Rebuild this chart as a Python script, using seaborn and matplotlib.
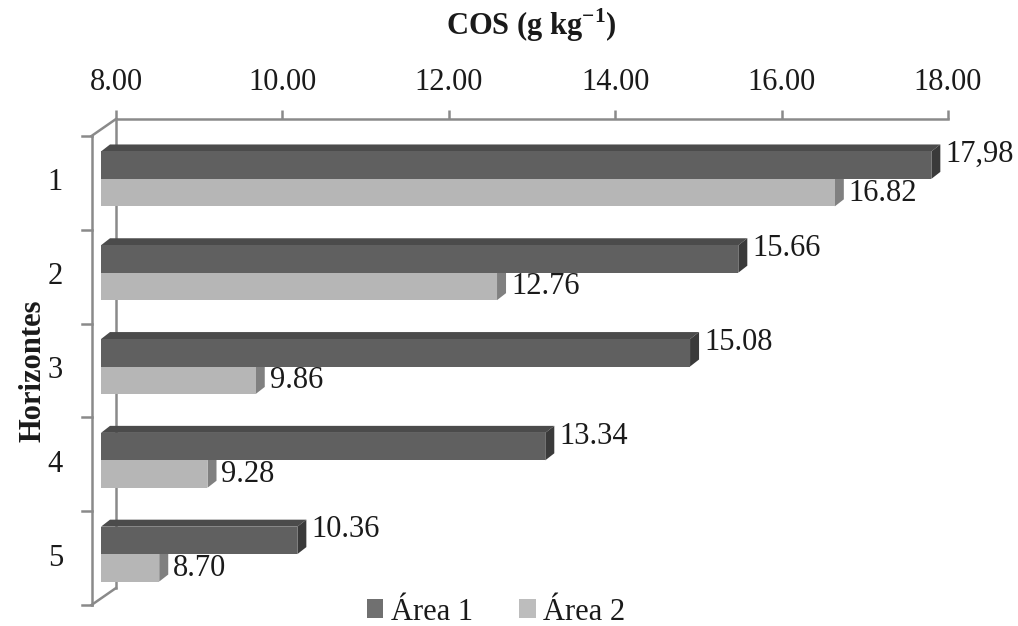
import matplotlib
matplotlib.use("Agg")
import matplotlib.pyplot as plt
import numpy as np
import pandas as pd
import seaborn as sns
from matplotlib.patches import Polygon, Patch
from matplotlib.lines import Line2D
from matplotlib.transforms import IdentityTransform, offset_copy

# ---- data -------------------------------------------------------------
horizontes = ["1", "2", "3", "4", "5"]
areas = ["Área 1", "Área 2"]
cos_area1 = [17.98, 15.66, 15.08, 13.34, 10.36]
cos_area2 = [16.82, 12.76, 9.86, 9.28, 8.70]
rotulos_area1 = ["17,98", "15.66", "15.08", "13.34", "10.36"]
rotulos_area2 = ["16.82", "12.76", "9.86", "9.28", "8.70"]
x_ticks = [8, 10, 12, 14, 16, 18]
x_ticklabels = ["8.00", "10.00", "12.00", "14.00", "16.00", "18.00"]
titulo = "COS (g kg$^{\\mathbf{-1}}$)"
rotulo_y = "Horizontes"

# ---- style ------------------------------------------------------------
sns.set_theme(style="white")
plt.rcParams["font.family"] = ["Liberation Serif", "DejaVu Serif"]
plt.rcParams["mathtext.fontset"] = "custom"
plt.rcParams["mathtext.rm"] = "Liberation Serif"
plt.rcParams["mathtext.bf"] = "Liberation Serif:bold"

FS = 22
DPI = 100
W, H = 1018, 626
wall = "#8a8a8a"
wall_lw = 1.8
front_cols = ["#606060", "#b6b6b6"]
top_cols = ["#4b4b4b", "#9c9c9c"]
side_cols = ["#3a3a3a", "#808080"]
legend_cols = ["#707070", "#bdbdbd"]

# 3-D look: offsets (in pixels) of the bar front / back faces and of the front wall
front_dx, front_dy = -15, -13
back_dx, back_dy = -6, -6
wall_dx, wall_dy = -24.5, -17

fig = plt.figure(figsize=(W / DPI, H / DPI), dpi=DPI)
fig.patch.set_facecolor("white")


def px_rect(left, top, right, bottom):
    return [left / W, 1 - bottom / H, (right - left) / W, (bottom - top) / H]


ax = fig.add_axes(px_rect(116, 119, 948, 588))

df = pd.DataFrame({
    "Horizonte": horizontes * 2,
    "COS": cos_area1 + cos_area2,
    "Área": [areas[0]] * len(horizontes) + [areas[1]] * len(horizontes),
})

sns.barplot(data=df, y="Horizonte", x="COS", hue="Área", orient="h",
            palette=front_cols, width=0.585, saturation=1, legend=False, ax=ax)

x_base = x_ticks[0]
ax.set_xlim(x_ticks[0], x_ticks[-1])
ax.set_ylim(len(horizontes) - 0.5, -0.5)

# axis furniture: value axis on top, back wall on the left
ax.xaxis.tick_top()
ax.set_xticks(x_ticks)
ax.set_xticklabels(x_ticklabels, fontsize=FS)
ax.tick_params(axis="x", top=True, bottom=False, direction="out", length=6.5,
               width=wall_lw, color=wall, pad=9, labelcolor="#1a1a1a")
ax.set_yticks([])
ax.set_xlabel("")
ax.set_ylabel("")
for side in ["right", "bottom"]:
    ax.spines[side].set_visible(False)
for side in ["top", "left"]:
    ax.spines[side].set_color(wall)
    ax.spines[side].set_linewidth(wall_lw)
    ax.spines[side].set_zorder(0.5)
ax.grid(False)

ident = IdentityTransform()
front_tr = offset_copy(ax.transData, fig=fig, x=front_dx, y=front_dy, units="dots")

# bars: front face from seaborn, plus top and side faces
for container, tcol, scol in zip(ax.containers, top_cols, side_cols):
    for bar in container:
        value = bar.get_width()
        bar.set_x(x_base)
        bar.set_width(value - x_base)
        bar.set_transform(front_tr)
        bar.set_clip_on(False)
        bar.set_edgecolor("none")
        bar.set_zorder(3)
        (xl, ya), (xr, yb) = ax.transData.transform(
            [(x_base, bar.get_y()), (value, bar.get_y() + bar.get_height())])
        yt, ybot = max(ya, yb), min(ya, yb)
        top_face = Polygon(
            [(xl + front_dx, yt + front_dy), (xr + front_dx, yt + front_dy),
             (xr + back_dx, yt + back_dy), (xl + back_dx, yt + back_dy)],
            closed=True, transform=ident, facecolor=tcol, edgecolor="none",
            zorder=2, clip_on=False)
        side_face = Polygon(
            [(xr + front_dx, yt + front_dy), (xr + back_dx, yt + back_dy),
             (xr + back_dx, ybot + back_dy), (xr + front_dx, ybot + front_dy)],
            closed=True, transform=ident, facecolor=scol, edgecolor="none",
            zorder=2, clip_on=False)
        ax.add_patch(top_face)
        ax.add_patch(side_face)

# walls: front-left edge, connecting diagonals and category ticks
bb = ax.bbox
x0, x1, y0, y1 = bb.x0, bb.x1, bb.y0, bb.y1
wall_lines = [
    [(x0 + wall_dx, y1 + wall_dy), (x0 + wall_dx, y0 + wall_dy)],
    [(x0, y1), (x0 + wall_dx, y1 + wall_dy)],
    [(x0, y0), (x0 + wall_dx, y0 + wall_dy)],
]
for b in np.arange(-0.5, len(horizontes), 1.0):
    yb_disp = ax.transData.transform((x_base, b))[1] + wall_dy
    wall_lines.append([(x0 + wall_dx - 10, yb_disp), (x0 + wall_dx, yb_disp)])
for seg in wall_lines:
    (xa, ya), (xb, yb) = seg
    ax.add_line(Line2D([xa, xb], [ya, yb], transform=ident, color=wall,
                       lw=wall_lw, zorder=0.6, clip_on=False,
                       solid_capstyle="projecting"))

# category labels on the front wall
ylab_tr = offset_copy(ax.get_yaxis_transform(), fig=fig, x=-53, y=wall_dy, units="dots")
for i, h in enumerate(horizontes):
    ax.text(0, i, h, transform=ylab_tr, ha="right", va="center",
            fontsize=FS, color="#1a1a1a")

# value labels
lab_tr1 = offset_copy(ax.transData, fig=fig, x=-1, y=-2.5, units="dots")
lab_tr2 = offset_copy(ax.transData, fig=fig, x=-1, y=-13.5, units="dots")
for container, rotulos, tr in zip(ax.containers, [rotulos_area1, rotulos_area2],
                                  [lab_tr1, lab_tr2]):
    for bar, txt in zip(container, rotulos):
        ax.text(bar.get_x() + bar.get_width(), bar.get_y() + bar.get_height() / 2,
                txt, transform=tr, ha="left", va="center", fontsize=FS,
                color="#1a1a1a", clip_on=False)

# axis titles
fig.text(531 / W, 1 - 35 / H, titulo, ha="center", va="baseline",
         fontsize=FS, fontweight="bold", color="#1a1a1a")
ylabel_tr = offset_copy(ax.transAxes, fig=fig, x=33 - 116, y=wall_dy, units="dots")
ax.text(0, 0.5, rotulo_y, transform=ylabel_tr, rotation=90, ha="center",
        va="center", fontsize=FS, fontweight="bold", color="#1a1a1a")

# legend
handles = [Patch(facecolor=c, edgecolor="none") for c in legend_cols]
fig.legend(handles, areas, loc="center", bbox_to_anchor=(496 / W, 1 - 612 / H),
           ncol=2, frameon=False, fontsize=FS, handlelength=0.55,
           handleheight=0.55, handletextpad=0.25, columnspacing=1.5,
           borderpad=0, borderaxespad=0, labelcolor="#1a1a1a")

fig.savefig("out.png", dpi=DPI, facecolor="white")
